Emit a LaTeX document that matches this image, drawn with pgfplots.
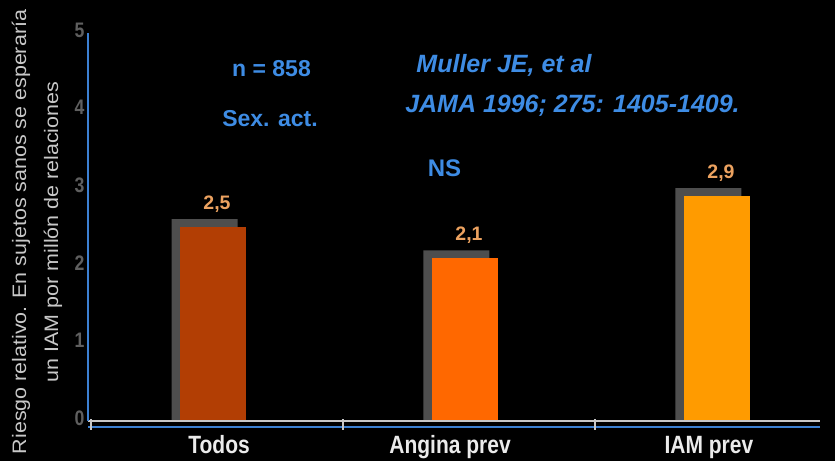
\documentclass[border=0pt]{standalone}
\usepackage{fontspec}
\setmainfont{Liberation Sans}
\newfontfamily\narrowfont[FakeStretch=0.84]{Liberation Sans}
\newfontfamily\longfont[FakeStretch=1.1]{Liberation Sans}
\usepackage{pgfplots}
\pgfplotsset{compat=1.18}
\definecolor{barTodos}{RGB}{178,62,4}
\definecolor{barAngina}{RGB}{255,104,0}
\definecolor{barIAM}{RGB}{255,155,0}
\definecolor{shadowGray}{RGB}{78,78,78}
\definecolor{valueTan}{RGB}{236,162,96}
\definecolor{noteBlue}{RGB}{62,140,228}
\definecolor{axisBlue}{RGB}{60,128,210}
\definecolor{axisGray}{RGB}{200,200,200}
\definecolor{tickGray}{RGB}{95,95,95}
\definecolor{labelGray}{RGB}{200,200,200}

\begin{document}
\begin{tikzpicture}[x=1pt,y=1pt]
\useasboundingbox (0,0) rectangle (835,461);
\fill[black] (0,0) rectangle (835,461);
\begin{axis}[
	at={(88pt,40pt)}, anchor=south west,
	scale only axis,
	width=732pt, height=388pt,
	xmin=-0.512, xmax=2.393,
	ymin=0, ymax=5,
	ybar, bar width=66pt,
	axis line style={draw=none},
	major tick length=0pt,
	clip=false,
	/pgf/number format/assume math mode=true,
	xtick={0.008,0.925,1.952},
	xticklabels={Todos,Angina prev,IAM prev},
	xticklabel style={anchor=base, yshift=-32pt, text=white!92!black,
		font=\narrowfont\bfseries\fontsize{25}{30}\selectfont},
	ytick={0,1,2,3,4,5},
	yticklabel style={anchor=east, yshift=3pt, text=tickGray,
		font=\narrowfont\bfseries\fontsize{21}{24}\selectfont},
]
% shadow bars carry the value labels
\addplot[fill=shadowGray, draw=none, bar shift=-12.5pt,
	point meta=explicit symbolic,
	nodes near coords,
	every node near coord/.style={anchor=base, yshift=10pt, text=valueTan,
		font=\bfseries\fontsize{19.5}{22}\selectfont}]
	coordinates {(0,2.6) [2{,}5] (1,2.2) [2{,}1] (2,3.0) [2{,}9]};
\addplot[fill=barTodos, draw=none, bar shift=-4pt] coordinates {(0,2.5)};
\addplot[fill=barAngina, draw=none, bar shift=-4pt] coordinates {(1,2.1)};
\addplot[fill=barIAM, draw=none, bar shift=-4pt] coordinates {(2,2.9)};

\draw[axisGray, line width=2.5pt] (rel axis cs:0,0) -- (rel axis cs:1,0);
\draw[axisBlue, line width=2pt] ([yshift=-6pt]rel axis cs:0,0) -- ([yshift=-6pt]rel axis cs:1,0);
\draw[axisBlue, line width=2pt] (rel axis cs:0,0) -- (rel axis cs:0,1);
\pgfplotsinvokeforeach{-0.5,0.5,1.5}{
	\draw[axisGray, line width=1.5pt] ([yshift=2pt]axis cs:#1,0) -- ([yshift=-9pt]axis cs:#1,0);
}
\end{axis}

\node[rotate=90, align=center, text=labelGray, font=\longfont\fontsize{19.5}{32}\selectfont]
	at (37,229) {Riesgo relativo. En sujetos sanos se esperaría\\un IAM por millón de relaciones};

\node[anchor=base, text=noteBlue, font=\bfseries\fontsize{23}{26}\selectfont] at (271.5,384) {n = 858};
\node[anchor=base, text=noteBlue, font=\bfseries\fontsize{23}{26}\selectfont] at (270,334) {Sex. act.};
\node[anchor=base, text=noteBlue, font=\bfseries\fontsize{24}{26}\selectfont] at (444.5,284) {NS};
\node[anchor=base, text=noteBlue, font=\bfseries\itshape\fontsize{25}{28}\selectfont] at (504,388) {Muller JE, et al};
\node[anchor=base, text=noteBlue, font=\bfseries\itshape\fontsize{25}{28}\selectfont] at (572.5,348) {JAMA 1996; 275: 1405-1409.};
\end{tikzpicture}
\end{document}
